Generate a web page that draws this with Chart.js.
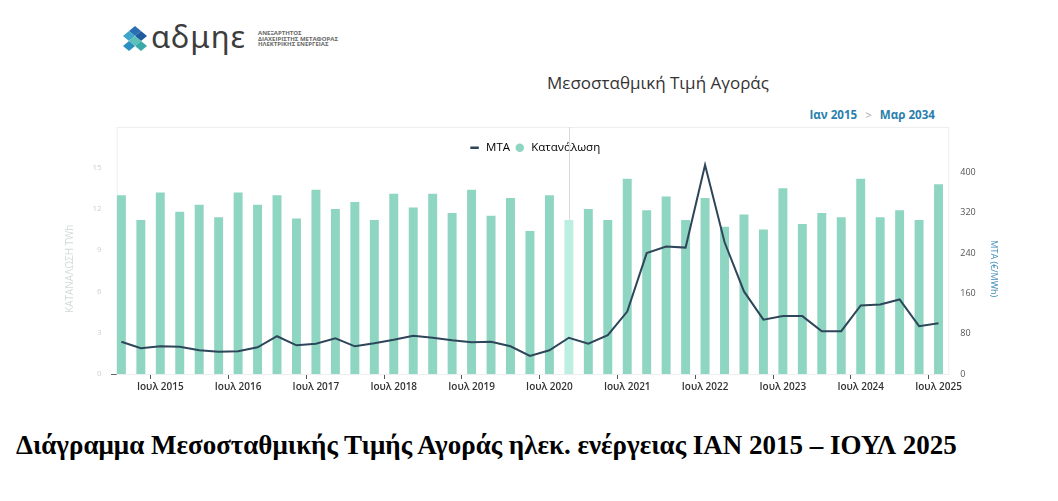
<!DOCTYPE html>
<html lang="el">
<head>
<meta charset="utf-8">
<title>Μεσοσταθμική Τιμή Αγοράς</title>
<script src="https://cdn.jsdelivr.net/npm/chart.js@4.4.1/dist/chart.umd.min.js"></script>
<style>
    html, body { margin: 0; padding: 0; background: #fff; }
    body { width: 1058px; height: 501px; position: relative; overflow: hidden; font-family: 'Open Sans', sans-serif; }
    #logo { position: absolute; left: 121px; top: 25px; width: 28px; height: 28px; }
    #brand { position: absolute; left: 151px; top: 15px; font-family: 'Noto Sans', sans-serif; font-size: 31px; color: #3d3d3d; letter-spacing: 1px; }
    #brandSub { position: absolute; left: 258px; top: 31px; font-size: 6px; line-height: 5.6px; font-weight: 700; color: #666; }
    #chartTitle { position: absolute; left: 0; width: 1316px; top: 71px; text-align: center; font-size: 17px; color: #333; }
    #range { position: absolute; right: 123px; top: 107px; font-size: 11.6px; font-weight: 700; color: #2a7fae; }
    #range span { color: #aaa; font-weight: 400; margin: 0 8px; }
    #chartBox { position: absolute; left: 0; top: 113px; width: 1058px; height: 284px; }
    #caption { position: absolute; left: 16px; top: 430px; font-family: 'Liberation Serif', serif; font-weight: 700; font-size: 27px; color: #000; white-space: nowrap; }
</style>
</head>
<body>
<svg id="logo" viewBox="0 0 28 28">
    <polygon points="14,1 20,6 14,11 8,6" fill="#2b6fb3"/>
    <polygon points="8,6 14,11 8,16 2,11" fill="#3fa6c9"/>
    <polygon points="20,6 26,11 20,16 14,11" fill="#1f5c9e"/>
    <polygon points="14,11 20,16 14,21 8,16" fill="#5cc2b8"/>
    <polygon points="8,16 14,21 8,26 2,21" fill="#2b8fc0"/>
    <polygon points="20,16 26,21 20,26 14,21" fill="#3aa9a8"/>
</svg>
<div id="brand">αδμηε</div>
<div id="brandSub">ΑΝΕΞΑΡΤΗΤΟΣ<br>ΔΙΑΧΕΙΡΙΣΤΗΣ ΜΕΤΑΦΟΡΑΣ<br>ΗΛΕΚΤΡΙΚΗΣ ΕΝΕΡΓΕΙΑΣ</div>
<div id="chartTitle">Μεσοσταθμική Τιμή Αγοράς</div>
<div id="range">Ιαν 2015<span>&gt;</span>Μαρ 2034</div>
<div id="chartBox"><canvas id="priceChart"></canvas></div>
<div id="caption">Διάγραμμα Μεσοσταθμικής Τιμής Αγοράς ηλεκ. ενέργειας ΙΑΝ 2015 – ΙΟΥΛ 2025</div>

<script>
// quarterly points, Jan 2015 .. Jul 2025
const quarters = [
    'Ιαν 2015', 'Απρ 2015', 'Ιουλ 2015', 'Οκτ 2015',
    'Ιαν 2016', 'Απρ 2016', 'Ιουλ 2016', 'Οκτ 2016',
    'Ιαν 2017', 'Απρ 2017', 'Ιουλ 2017', 'Οκτ 2017',
    'Ιαν 2018', 'Απρ 2018', 'Ιουλ 2018', 'Οκτ 2018',
    'Ιαν 2019', 'Απρ 2019', 'Ιουλ 2019', 'Οκτ 2019',
    'Ιαν 2020', 'Απρ 2020', 'Ιουλ 2020', 'Οκτ 2020',
    'Ιαν 2021', 'Απρ 2021', 'Ιουλ 2021', 'Οκτ 2021',
    'Ιαν 2022', 'Απρ 2022', 'Ιουλ 2022', 'Οκτ 2022',
    'Ιαν 2023', 'Απρ 2023', 'Ιουλ 2023', 'Οκτ 2023',
    'Ιαν 2024', 'Απρ 2024', 'Ιουλ 2024', 'Οκτ 2024',
    'Ιαν 2025', 'Απρ 2025', 'Ιουλ 2025'
];

// Κατανάλωση (TWh)
const consumption = [
    13.0, 11.2, 13.2, 11.8, 12.3, 11.4, 13.2, 12.3,
    13.0, 11.3, 13.4, 12.0, 12.5, 11.2, 13.1, 12.1,
    13.1, 11.7, 13.4, 11.5, 12.8, 10.4, 13.0, 11.2,
    12.0, 11.2, 14.2, 11.9, 12.9, 11.2, 12.8, 10.7,
    11.6, 10.5, 13.5, 10.9, 11.7, 11.4, 14.2, 11.4,
    11.9, 11.2, 13.8
];

// ΜΤΑ (€/MWh)
const mta = [
    64, 51, 55, 54, 47, 44, 45, 53,
    75, 57, 60, 71, 55, 61, 68, 76,
    72, 67, 63, 64, 55, 36, 47, 72,
    60, 77, 124, 240, 253, 251, 415, 262,
    164, 108, 115, 115, 85, 85, 136, 138,
    148, 95, 101
];

const leftTicks = [0, 3, 6, 9, 12, 15];
const rightTicks = [0, 80, 160, 240, 320, 400];
const hoverIndex = 23;

const barColor = '#8ed5c2';
const barHover = '#bdeee2';
const lineColor = '#2e4659';

// faint panel frame + the hover guide line
const framePlugin = {
    id: 'frame',
    beforeDatasetsDraw(chart) {
        const {ctx, chartArea} = chart;
        const x = chart.scales.x;
        const top = chart.legend.top - 11;
        ctx.save();
        ctx.strokeStyle = '#eeeeee';
        ctx.lineWidth = 1;
        ctx.strokeRect(chartArea.left + 5.5, top + 0.5, chartArea.right - chartArea.left - 5, chartArea.bottom - top);
        const hx = Math.round(x.getPixelForValue(hoverIndex)) + 0.5;
        ctx.strokeStyle = '#d9d9d9';
        ctx.beginPath();
        ctx.moveTo(hx, top);
        ctx.lineTo(hx, chartArea.bottom);
        ctx.stroke();
        ctx.restore();
    }
};

Chart.defaults.font.family = "'Open Sans', sans-serif";

const ctx = document.getElementById('priceChart').getContext('2d');
new Chart(ctx, {
    type: 'bar',
    data: {
        labels: quarters,
        datasets: [
            {
                type: 'line',
                label: 'ΜΤΑ',
                data: mta,
                yAxisID: 'y1',
                borderColor: lineColor,
                backgroundColor: lineColor,
                borderWidth: 2,
                pointRadius: 0,
                tension: 0,
                clip: false,
                order: 0
            },
            {
                label: 'Κατανάλωση',
                data: consumption,
                yAxisID: 'y',
                backgroundColor: consumption.map((v, i) => i === hoverIndex ? barHover : barColor),
                categoryPercentage: 0.5,
                barPercentage: 0.92,
                order: 1
            }
        ]
    },
    options: {
        responsive: true,
        maintainAspectRatio: false,
        animation: false,
        layout: {padding: {left: 64.5, right: 53.5, top: 25, bottom: 2}},
        plugins: {
            legend: {
                position: 'top',
                labels: {
                    usePointStyle: true,
                    boxWidth: 14,
                    boxHeight: 6,
                    padding: 4,
                    color: '#555',
                    font: {size: 11.5},
                    generateLabels(chart) {
                        return chart.data.datasets.map((ds, i) => ({
                            text: ds.label,
                            fillStyle: i === 0 ? lineColor : barColor,
                            strokeStyle: i === 0 ? lineColor : barColor,
                            lineWidth: i === 0 ? 2.5 : 0,
                            pointStyle: i === 0 ? 'line' : 'circle',
                            datasetIndex: i
                        }));
                    }
                }
            },
            tooltip: {enabled: false}
        },
        scales: {
            x: {
                grid: {
                    drawOnChartArea: false,
                    drawTicks: true,
                    tickLength: 5,
                    color: c => (c.index % 4 === 2 ? '#555' : 'rgba(0,0,0,0)')
                },
                border: {display: true, color: '#666', width: 1},
                ticks: {
                    autoSkip: false,
                    maxRotation: 0,
                    padding: 2,
                    color: '#333',
                    font: {size: 10, weight: '600'},
                    callback: function (value, index) {
                        const label = this.getLabelForValue(value);
                        return label.startsWith('Ιουλ') ? label : '';
                    }
                }
            },
            y: {
                position: 'left',
                min: 0,
                max: 15.3,
                afterBuildTicks: axis => { axis.ticks = leftTicks.map(v => ({value: v})); },
                grid: {display: false, drawTicks: false},
                border: {display: false},
                ticks: {color: '#cfcfcf', font: {size: 8}, padding: 10},
                title: {display: true, text: 'ΚΑΤΑΝΑΛΩΣΗ TWh', color: '#d0dcda', font: {size: 10}, padding: {top: 0, bottom: 6}}
            },
            y1: {
                position: 'right',
                min: 0,
                max: 418,
                afterBuildTicks: axis => { axis.ticks = rightTicks.map(v => ({value: v})); },
                grid: {display: false, drawTicks: false},
                border: {display: false},
                ticks: {color: '#555', font: {size: 9}, padding: 12},
                title: {display: true, text: 'ΜΤΑ (€/MWh)', color: '#3d8bb5', font: {size: 9}, padding: {top: 6, bottom: 0}}
            }
        }
    },
    plugins: [framePlugin]
});
</script>
</body>
</html>
